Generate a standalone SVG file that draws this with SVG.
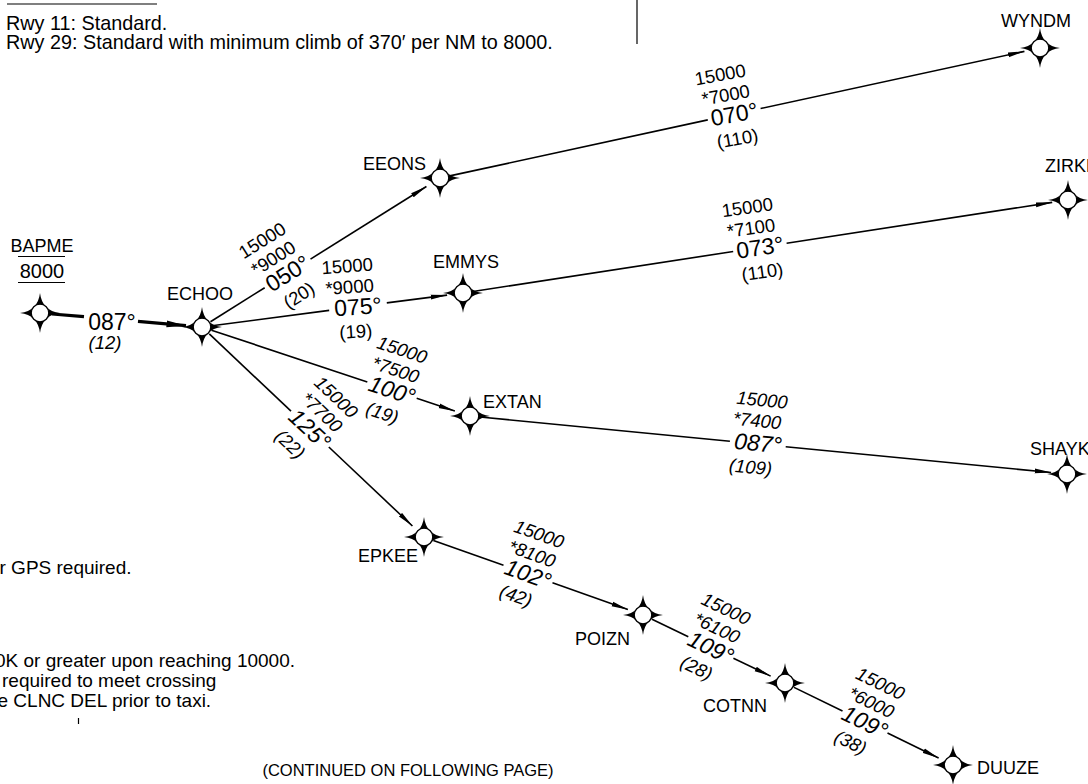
<svg xmlns="http://www.w3.org/2000/svg" xmlns:xlink="http://www.w3.org/1999/xlink" width="1088" height="784" viewBox="0 0 1088 784">
<style>
  .t { font-family: "Liberation Sans", Arial, sans-serif; fill: #000; }
  .note { font-size: 19px; }
  .wpl { font-size: 18px; }
  .alt { font-size: 18.5px; text-anchor: middle; }
  .hd { font-size: 23px; text-anchor: middle; }
  .it { font-style: italic; }
  .mid { text-anchor: middle; }
  .leg { stroke: #000; stroke-width: 1.6; fill: none; }
  .thick { stroke-width: 3.2; }
  .rule { stroke: #000; stroke-width: 1.2; fill: none; }
</style>
<defs>
  <marker id="ah" markerUnits="userSpaceOnUse" markerWidth="17" markerHeight="6" viewBox="0 0 17 6" refX="16.5" refY="3" orient="auto">
    <path d="M0,0.6 L17,3 L0,5.4 Z" fill="#000"/>
  </marker>
  <marker id="ahT" markerUnits="userSpaceOnUse" markerWidth="20" markerHeight="8" viewBox="0 0 20 8" refX="19.5" refY="4" orient="auto">
    <path d="M0,0.6 L20,4 L0,7.4 Z" fill="#000"/>
  </marker>
  <g id="wp">
    <path d="M0,-20 Q2.2,-2.2 20,0 Q2.2,2.2 0,20 Q-2.2,2.2 -20,0 Q-2.2,-2.2 0,-20 Z" fill="#000"/>
    <circle r="8.8" fill="#fff" stroke="#000" stroke-width="1.3"/>
  </g>
</defs>

<rect x="0" y="0" width="1088" height="784" fill="#fff"/>

<g id="notes">
  <line class="rule" x1="7" y1="4" x2="157" y2="4"/>
  <line class="rule" x1="637" y1="0" x2="637" y2="44"/>
  <text class="t" font-size="19.8" x="6" y="29.5">Rwy 11: Standard.</text>
  <text class="t" font-size="19.8" x="6" y="48.5">Rwy 29: Standard with minimum climb of 370′ per NM to 8000.</text>
  <text class="t note" x="-0.5" y="574">r GPS required.</text>
  <text class="t note" x="-5" y="667">0K or greater upon reaching 10000.</text>
  <text class="t note" x="2" y="687"> required to meet crossing</text>
  <text class="t note" x="-2.5" y="707">e CLNC DEL prior to taxi.</text>
  <line class="rule" x1="78.5" y1="718" x2="78.5" y2="724"/>
  <text class="t mid" x="408" y="776" font-size="16.5">(CONTINUED ON FOLLOWING PAGE)</text>
</g>

<g id="connectors">
  <g id="leg-BAPME-ECHOO">
    <line class="leg thick" x1="52" y1="314" x2="84" y2="316.7"/>
    <line class="leg thick" x1="138" y1="321.3" x2="186" y2="325.6" marker-end="url(#ahT)"/>
    <text class="t hd" x="112" y="330">087°</text>
    <text class="t alt it" x="105" y="349">(12)</text>
  </g>
  <g id="leg-ECHOO-EEONS">
    <line class="leg" x1="210.5" y1="321.7" x2="264.7" y2="287.7"/>
    <line class="leg" x1="310.5" y1="259.1" x2="426.4" y2="186.5" marker-end="url(#ah)"/>
    <g transform="translate(287.6,273.4) rotate(-32.05)">
      <text class="t alt" x="-4" y="-35">15000</text>
      <text class="t alt" x="-4" y="-14">*9000</text>
      <text class="t hd" x="0" y="8">050°</text>
      <text class="t alt" x="-2" y="31">(20)</text>
    </g>
  </g>
  <g id="leg-ECHOO-EMMYS">
    <line class="leg" x1="211.9" y1="325.7" x2="329.2" y2="310.4"/>
    <line class="leg" x1="386.8" y1="302.9" x2="447.1" y2="295.1" marker-end="url(#ah)"/>
    <g transform="translate(358,306.7) rotate(-4)">
      <text class="t alt" x="-8" y="-35">15000</text>
      <text class="t alt" x="-7" y="-14">*9000</text>
      <text class="t hd" x="0" y="8">075°</text>
      <text class="t alt" x="-4" y="31">(19)</text>
    </g>
  </g>
  <g id="leg-ECHOO-EXTAN">
    <line class="leg" x1="211.5" y1="330.2" x2="367.3" y2="381.9"/>
    <line class="leg" x1="416.7" y1="398.3" x2="454.8" y2="411.0" marker-end="url(#ah)"/>
    <g transform="translate(392,390.1) rotate(18.37)">
      <text class="t alt it" x="-3" y="-35">15000</text>
      <text class="t alt it" x="-3" y="-14">*7500</text>
      <text class="t hd it" x="0" y="8">100°</text>
      <text class="t alt it" x="-2" y="31">(19)</text>
    </g>
  </g>
  <g id="leg-ECHOO-EPKEE">
    <line class="leg" x1="209.3" y1="333.9" x2="291.0" y2="411.2"/>
    <line class="leg" x1="328.8" y1="447.0" x2="412.4" y2="526.0" marker-end="url(#ah)"/>
    <g transform="translate(309.9,429.1) rotate(43.4)">
      <text class="t alt it" x="-3" y="-35">15000</text>
      <text class="t alt it" x="-3" y="-14">*7700</text>
      <text class="t hd it" x="0" y="8">125°</text>
      <text class="t alt it" x="-4" y="31">(22)</text>
    </g>
  </g>
  <g id="leg-EPKEE-POIZN">
    <line class="leg" x1="433.4" y1="540.4" x2="503.5" y2="565.3"/>
    <line class="leg" x1="552.5" y1="582.7" x2="627.9" y2="609.6" marker-end="url(#ah)"/>
    <g transform="translate(528,574) rotate(19.6)">
      <text class="t alt it" x="-3" y="-35">15000</text>
      <text class="t alt it" x="-3" y="-14">*8100</text>
      <text class="t hd it" x="0" y="8">102°</text>
      <text class="t alt it" x="-4" y="31">(42)</text>
    </g>
  </g>
  <g id="leg-POIZN-COTNN">
    <line class="leg" x1="652" y1="619.3" x2="688.3" y2="636.7"/>
    <line class="leg" x1="733.4" y1="658.3" x2="770.6" y2="676.1" marker-end="url(#ah)"/>
    <g transform="translate(710.8,647.5) rotate(25.6)">
      <text class="t alt it" x="-3" y="-35">15000</text>
      <text class="t alt it" x="-3" y="-14">*6100</text>
      <text class="t hd it" x="0" y="8">109°</text>
      <text class="t alt it" x="-4" y="31">(28)</text>
    </g>
  </g>
  <g id="leg-COTNN-DUUZE">
    <line class="leg" x1="794" y1="687.4" x2="842.5" y2="711"/>
    <line class="leg" x1="887.5" y1="733" x2="938.6" y2="758" marker-end="url(#ah)"/>
    <g transform="translate(865,722) rotate(26)">
      <text class="t alt it" x="-3" y="-35">15000</text>
      <text class="t alt it" x="-3" y="-14">*6000</text>
      <text class="t hd it" x="0" y="8">109°</text>
      <text class="t alt it" x="-4" y="31">(38)</text>
    </g>
  </g>
  <g id="leg-EEONS-WYNDM">
    <line class="leg" x1="449.8" y1="175.9" x2="707.8" y2="119.9"/>
    <line class="leg" x1="760.6" y1="108.5" x2="1024.4" y2="51.4" marker-end="url(#ah)"/>
    <g transform="translate(734.2,114.2) rotate(-10)">
      <text class="t alt" x="-7" y="-35">15000</text>
      <text class="t alt" x="-5" y="-14">*7000</text>
      <text class="t hd" x="0" y="8">070°</text>
      <text class="t alt" x="-1" y="31">(110)</text>
    </g>
  </g>
  <g id="leg-EMMYS-ZIRKL">
    <line class="leg" x1="472.9" y1="291.5" x2="733.2" y2="251.5"/>
    <line class="leg" x1="786.6" y1="243.3" x2="1052.2" y2="202.4" marker-end="url(#ah)"/>
    <g transform="translate(759.9,247.4) rotate(-8)">
      <text class="t alt" x="-7" y="-35">15000</text>
      <text class="t alt" x="-6" y="-14">*7100</text>
      <text class="t hd" x="0" y="8">073°</text>
      <text class="t alt" x="-1" y="31">(110)</text>
    </g>
  </g>
  <g id="leg-EXTAN-SHAYK">
    <line class="leg" x1="480" y1="417" x2="729.9" y2="441.3"/>
    <line class="leg" x1="785.7" y1="446.7" x2="1051.1" y2="472.5" marker-end="url(#ah)"/>
    <g transform="translate(757.8,444) rotate(5.55)">
      <text class="t alt it" x="0" y="-38">15000</text>
      <text class="t alt it" x="-3" y="-17">*7400</text>
      <text class="t hd it" x="0" y="7">087°</text>
      <text class="t alt it" x="-5" y="30">(109)</text>
    </g>
  </g>
</g>

<g id="BAPME">
  <use xlink:href="#wp" href="#wp" x="40" y="313"/>
  <text class="t wpl mid" x="42" y="252">BAPME</text>
  <line class="rule" x1="18" y1="256.5" x2="65" y2="256.5"/>
  <text class="t mid" font-size="20" x="42" y="278">8000</text>
  <line class="rule" x1="18" y1="282.5" x2="65" y2="282.5"/>
</g>
<g id="ECHOO">
  <use xlink:href="#wp" href="#wp" x="202" y="327"/>
  <text class="t wpl mid" x="200" y="300">ECHOO</text>
</g>
<g id="EEONS">
  <use xlink:href="#wp" href="#wp" x="440" y="178"/>
  <text class="t wpl" x="363" y="170">EEONS</text>
</g>
<g id="EMMYS">
  <use xlink:href="#wp" href="#wp" x="463" y="293"/>
  <text class="t wpl" x="433" y="268">EMMYS</text>
</g>
<g id="EXTAN">
  <use xlink:href="#wp" href="#wp" x="470" y="416"/>
  <text class="t wpl" x="483" y="408">EXTAN</text>
</g>
<g id="EPKEE">
  <use xlink:href="#wp" href="#wp" x="424" y="537"/>
  <text class="t wpl" x="358" y="562">EPKEE</text>
</g>
<g id="POIZN">
  <use xlink:href="#wp" href="#wp" x="643" y="615"/>
  <text class="t wpl" x="575" y="645">POIZN</text>
</g>
<g id="COTNN">
  <use xlink:href="#wp" href="#wp" x="785" y="683"/>
  <text class="t wpl" x="703" y="712">COTNN</text>
</g>
<g id="DUUZE">
  <use xlink:href="#wp" href="#wp" x="953" y="765"/>
  <text class="t wpl" x="977" y="774">DUUZE</text>
</g>
<g id="WYNDM">
  <use xlink:href="#wp" href="#wp" x="1040" y="48"/>
  <text class="t wpl" x="1001" y="27">WYNDM</text>
</g>
<g id="ZIRKL">
  <use xlink:href="#wp" href="#wp" x="1068" y="200"/>
  <text class="t wpl" x="1045" y="172">ZIRKL</text>
</g>
<g id="SHAYK">
  <use xlink:href="#wp" href="#wp" x="1067" y="474"/>
  <text class="t wpl" x="1030" y="455">SHAYK</text>
</g>
</svg>
